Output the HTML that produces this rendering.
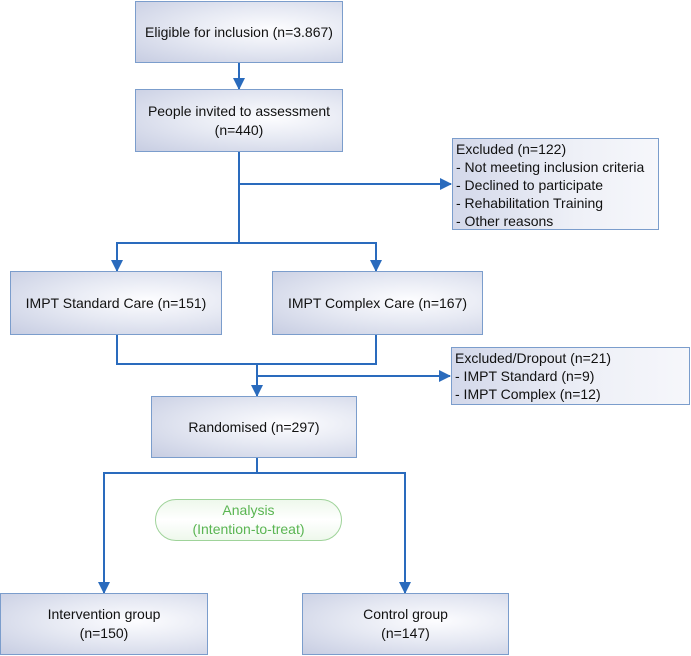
<!DOCTYPE html>
<html><head><meta charset="utf-8"><style>
body{margin:0;width:691px;height:656px;background:#fff;position:relative;overflow:hidden;font-family:"Liberation Sans",sans-serif;color:#111}
.b{position:absolute;box-sizing:border-box;border:1px solid #7b9dcc;background:radial-gradient(ellipse at 65% 45%,#fdfdff 0%,#e6e9f3 45%,#c7cde2 100%);display:flex;align-items:center;justify-content:center;text-align:center;font-size:14px;line-height:19px}
.l{position:absolute;box-sizing:border-box;border:1px solid #7b9dcc;background:linear-gradient(90deg,#d3d8ea,#eef0f7 60%,#f6f7fb);font-size:14px;line-height:18px;padding-left:3px}
svg{position:absolute;left:0;top:0}
</style></head><body>
<svg width="691" height="656">
<defs><marker id="a" markerWidth="12" markerHeight="12" refX="11" refY="6" orient="auto" markerUnits="userSpaceOnUse"><path d="M0,0L12,6L0,12z" fill="#2a6bbd"/></marker></defs>
<g stroke="#2a6bbd" stroke-width="2" fill="none">
<line x1="239" y1="63" x2="239" y2="89" marker-end="url(#a)"/>
<line x1="239" y1="152" x2="239" y2="243"/>
<line x1="239" y1="184" x2="451" y2="184" marker-end="url(#a)"/>
<polyline points="117,271 117,243 376,243 376,271" marker-end="url(#a)"/>
<line x1="117" y1="243" x2="117" y2="271" marker-end="url(#a)"/>
<polyline points="117,335 117,364 376,364 376,335"/>
<line x1="257" y1="364" x2="257" y2="396" marker-end="url(#a)"/>
<line x1="257" y1="376" x2="450" y2="376" marker-end="url(#a)"/>
<line x1="257" y1="458" x2="257" y2="473"/>
<polyline points="104,593 104,473 405,473 405,593" marker-end="url(#a)"/>
<line x1="104" y1="473" x2="104" y2="593" marker-end="url(#a)"/>
</g>
</svg>
<div class="b" style="left:135px;top:1px;width:208px;height:62px">Eligible for inclusion (n=3.867)</div>
<div class="b" style="left:135px;top:89px;width:208px;height:63px">People invited to assessment<br>(n=440)</div>
<div class="l" style="left:452px;top:138px;width:207px;height:92px;padding-top:1px">Excluded (n=122)<br>- Not meeting inclusion criteria<br>- Declined to participate<br>- Rehabilitation Training<br>- Other reasons</div>
<div class="b" style="left:10px;top:271px;width:212px;height:64px">IMPT Standard Care (n=151)</div>
<div class="b" style="left:272px;top:271px;width:211px;height:64px">IMPT Complex Care (n=167)</div>
<div class="l" style="left:451px;top:347px;width:239px;height:58px;padding-top:1px">Excluded/Dropout (n=21)<br>- IMPT Standard (n=9)<br>- IMPT Complex (n=12)</div>
<div class="b" style="left:151px;top:396px;width:206px;height:62px">Randomised (n=297)</div>
<div style="position:absolute;left:155px;top:499px;width:187px;height:42px;box-sizing:border-box;border:1px solid #9fd39a;border-radius:21px;background:linear-gradient(180deg,#eef8ec,#fff 50%,#eef8ec);color:#5ab552;font-size:14px;line-height:19px;text-align:center;padding-top:1px">Analysis<br>(Intention-to-treat)</div>
<div class="b" style="left:0px;top:593px;width:208px;height:62px">Intervention group<br>(n=150)</div>
<div class="b" style="left:302px;top:593px;width:207px;height:62px">Control group<br>(n=147)</div>
</body></html>
